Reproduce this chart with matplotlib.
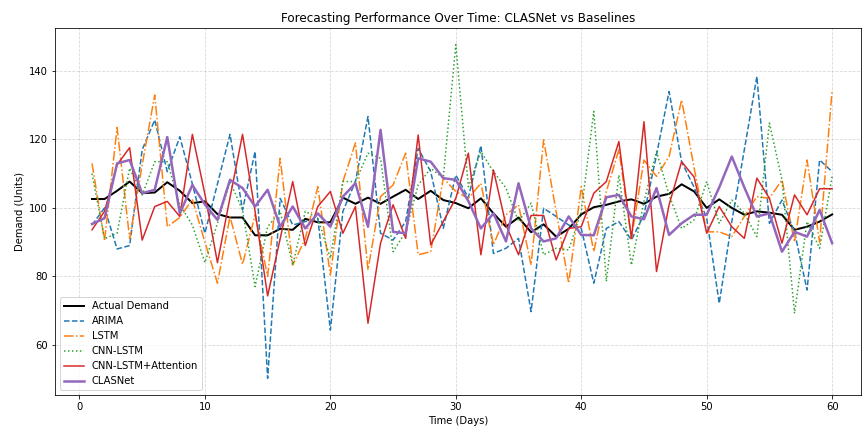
import matplotlib
matplotlib.use("Agg")
import matplotlib.pyplot as plt

days = list(range(1, 61))

actual = [102.6, 102.6, 105, 107.7, 104.3, 104.5, 107.5, 105, 101.4, 101.9,
          98.2, 97.2, 97.2, 92, 92, 93.9, 93.6, 96.8, 95.8, 95.8,
          103, 101.2, 103, 101.2, 103.3, 105.3, 102.6, 105, 102.3, 101.4,
          99.9, 102.8, 98.4, 94.5, 97.2, 92.9, 95.2, 91.6, 93.9, 98.1,
          100.2, 100.9, 101.9, 102.5, 101.2, 103.3, 104.1, 106.9, 104.8, 100,
          102.5, 100, 98, 99, 98.6, 98, 93.6, 94.5, 96, 98.1]

arima = [95, 100, 88, 89, 117, 125.7, 110.6, 120.8, 107, 92.6,
         107, 121.5, 99.4, 116.5, 50.2, 102.8, 95, 96, 97, 64.3,
         99, 107.7, 126.7, 92.6, 90.6, 96, 117.4, 110.6, 94, 109.6,
         103, 118.2, 86.7, 88.2, 91.1, 69.7, 99.9, 97.5, 95, 94,
         78, 94, 96, 90.6, 98, 115.5, 134, 113.5, 106, 97,
         72.1, 96, 117, 138.4, 95.5, 102.3, 93, 76, 114, 110.6]

lstm = [113, 90.4, 123.5, 91, 112.6, 133, 94.5, 97.2, 102.5, 90,
        78, 97.5, 83.5, 98, 80, 114.5, 83.3, 91, 106.2, 80.4,
        107.7, 119, 81.9, 103.3, 106.7, 116, 86.3, 87.2, 108.7, 104.8,
        102.8, 107.2, 89.2, 98, 100.9, 83.3, 119.9, 98.9, 78, 106.2,
        87.2, 104.8, 117, 91, 114, 109.2, 115, 131.6, 111.6, 93,
        93, 91.6, 97.5, 103.3, 102.8, 108.2, 90, 114, 90, 134.5]

cnn_lstm = [110, 91, 92.6, 111.6, 103.8, 113.5, 113.5, 100.9, 95, 84,
            95.5, 107.7, 99.4, 77, 94.5, 99, 83.3, 99, 97, 85.3,
            107.7, 107.7, 116, 114.5, 87.2, 93, 106.7, 111.6, 108.7, 147.7,
            106.2, 116.5, 110.6, 105.8, 96, 101.4, 86.3, 88.2, 87.7, 98.9,
            128.2, 78.5, 109.6, 83.3, 101.9, 116.5, 103.8, 94, 96.5, 107.7,
            95.5, 102.3, 98.4, 91.6, 124.8, 108.2, 69.2, 96, 88.2, 109.2]

cnn_lstm_att = [93.6, 99, 112.6, 117.6, 90.6, 100.4, 101.9, 97.5, 121.5, 104,
                84, 103, 121.5, 99, 74.3, 91, 107.7, 89, 100.4, 104.8,
                92.6, 100.4, 66.3, 89.7, 100.9, 91.1, 121.3, 89.2, 96, 102.8,
                116, 86.3, 111.1, 95, 86.3, 97.8, 97.8, 84.8, 94, 94.5,
                104.3, 107.7, 119.4, 91.1, 125.2, 81.4, 100.9, 113.5, 109, 92.6,
                100.4, 94.5, 91.1, 108.7, 102.8, 89.7, 103.8, 98, 105.6, 105.6]

clasnet = [95.3, 97, 113, 114, 104.3, 105.3, 120.7, 98.4, 106.7, 101,
           96.5, 108.2, 105.8, 100.4, 105.3, 94.5, 100.4, 94, 98.4, 94.5,
           103.3, 107.2, 94.5, 122.8, 93, 92.6, 114.5, 113.5, 108.7, 108.2,
           102, 94, 98.4, 90.2, 107.2, 94, 90.2, 91.1, 97.5, 92.1,
           92, 103.1, 103.8, 97.5, 96.7, 105.8, 92.1, 95.5, 98, 98,
           106, 115, 106, 97.5, 98.4, 87.2, 93, 91.6, 99.4, 89.7]

fig, ax = plt.subplots(figsize=(863/72, 428/72), dpi=72)
fig.subplots_adjust(left=55/863, right=861/863, top=1-28/428, bottom=1-395/428)

ax.plot(days, actual, color="black", lw=2, label="Actual Demand")
ax.plot(days, arima, color="#1f77b4", ls="--", lw=1.5, label="ARIMA")
ax.plot(days, lstm, color="#ff7f0e", ls="-.", lw=1.5, label="LSTM")
ax.plot(days, cnn_lstm, color="#2ca02c", ls=":", lw=1.5, label="CNN-LSTM")
ax.plot(days, cnn_lstm_att, color="#d62728", ls="-", lw=1.5, label="CNN-LSTM+Attention")
ax.plot(days, clasnet, color="#9467bd", ls="-", lw=2.5, label="CLASNet")

ax.set_xlim(-1.95, 62.3)
ax.set_title("Forecasting Performance Over Time: CLASNet vs Baselines")
ax.set_xlabel("Time (Days)")
ax.set_ylabel("Demand (Units)")
ax.grid(True, ls="--", alpha=0.5)
ax.legend(loc="lower left")

fig.savefig("out.png", dpi=72)
